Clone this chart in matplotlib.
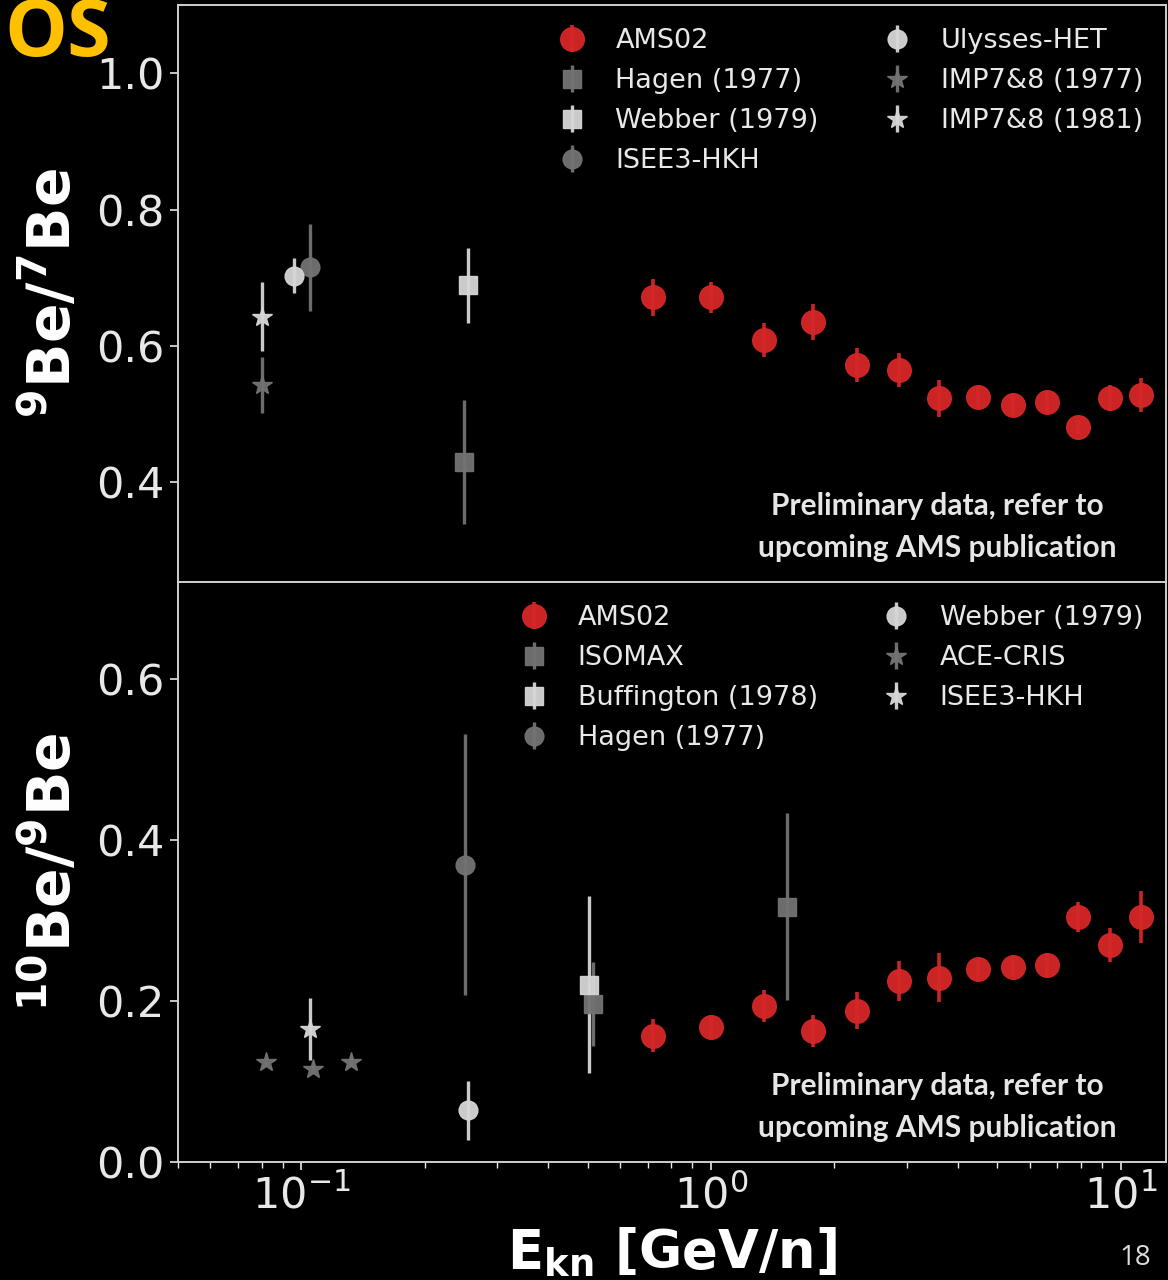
import matplotlib
matplotlib.use("Agg")
import matplotlib.pyplot as plt

# ---- 9Be/7Be ----
ams_e = [0.72, 1.00, 1.35, 1.77, 2.27, 2.88, 3.59, 4.47, 5.45, 6.59, 7.88, 9.42, 11.17]
ams_be97 = [0.671, 0.671, 0.609, 0.635, 0.572, 0.564, 0.523, 0.525, 0.513, 0.518, 0.481, 0.523, 0.528]
ams_be97_err = [0.027, 0.023, 0.025, 0.027, 0.025, 0.025, 0.027, 0.014, 0.016, 0.017, 0.010, 0.019, 0.025]

hagen_be97_e, hagen_be97, hagen_be97_err = [0.250], [0.429], [0.091]
webber_be97_e, webber_be97, webber_be97_err = [0.255], [0.689], [0.055]
isee3_be97_e, isee3_be97, isee3_be97_err = [0.105], [0.715], [0.064]
ulysses_be97_e, ulysses_be97, ulysses_be97_err = [0.096], [0.703], [0.026]
imp77_be97_e, imp77_be97, imp77_be97_err = [0.080], [0.542], [0.041]
imp81_be97_e, imp81_be97, imp81_be97_err = [0.080], [0.643], [0.050]

# ---- 10Be/9Be ----
ams_be109 = [0.157, 0.167, 0.194, 0.163, 0.188, 0.225, 0.229, 0.240, 0.242, 0.244, 0.304, 0.269, 0.304]
ams_be109_err = [0.020, 0.015, 0.020, 0.020, 0.023, 0.025, 0.030, 0.010, 0.010, 0.016, 0.019, 0.021, 0.032]

isomax_e, isomax_be109, isomax_be109_err = [0.514, 1.53], [0.196, 0.317], [0.052, 0.116]
buff_e, buff_be109, buff_be109_err = [0.504], [0.220], [0.110]
hagen_be109_e, hagen_be109, hagen_be109_err = [0.2505], [0.369], [0.162]
webber_be109_e, webber_be109, webber_be109_err = [0.255], [0.064], [0.037]
ace_e, ace_be109, ace_be109_err = [0.082, 0.107, 0.132], [0.124, 0.116, 0.124], [0.005, 0.005, 0.005]
isee3_be109_e, isee3_be109, isee3_be109_err = [0.105], [0.165], [0.039]

RED = "#d62728"
DARK = "#737373"
LIGHT = "#d6d6d6"
FG = "#e8e8e8"

plt.rcParams["font.family"] = ["DejaVu Sans"]

fig = plt.figure(figsize=(11.68, 12.8), dpi=100, facecolor="black")
ax1 = fig.add_axes([0.1524, 0.5453, 0.846, 0.4508])
ax2 = fig.add_axes([0.1524, 0.0922, 0.846, 0.4531], sharex=ax1)


def pt(ax, x, y, err, color, marker, label, ms=13.5, elw=2.4):
    ax.errorbar(x, y, yerr=err, fmt=marker, color=color, ms=ms, mec=color,
                elinewidth=elw, capsize=0, label=label, alpha=0.95)


pt(ax1, ams_e, ams_be97, ams_be97_err, RED, "o", "AMS02", ms=17, elw=2.6)
pt(ax1, hagen_be97_e, hagen_be97, hagen_be97_err, DARK, "s", "Hagen (1977)")
pt(ax1, webber_be97_e, webber_be97, webber_be97_err, LIGHT, "s", "Webber (1979)")
pt(ax1, isee3_be97_e, isee3_be97, isee3_be97_err, DARK, "o", "ISEE3-HKH")
pt(ax1, ulysses_be97_e, ulysses_be97, ulysses_be97_err, LIGHT, "o", "Ulysses-HET")
pt(ax1, imp77_be97_e, imp77_be97, imp77_be97_err, DARK, "*", "IMP7&8 (1977)", ms=15)
pt(ax1, imp81_be97_e, imp81_be97, imp81_be97_err, LIGHT, "*", "IMP7&8 (1981)", ms=15)

pt(ax2, ams_e, ams_be109, ams_be109_err, RED, "o", "AMS02", ms=17, elw=2.6)
pt(ax2, isomax_e, isomax_be109, isomax_be109_err, DARK, "s", "ISOMAX")
pt(ax2, buff_e, buff_be109, buff_be109_err, LIGHT, "s", "Buffington (1978)")
pt(ax2, hagen_be109_e, hagen_be109, hagen_be109_err, DARK, "o", "Hagen (1977)")
pt(ax2, webber_be109_e, webber_be109, webber_be109_err, LIGHT, "o", "Webber (1979)")
pt(ax2, ace_e, ace_be109, ace_be109_err, DARK, "*", "ACE-CRIS", ms=15)
pt(ax2, isee3_be109_e, isee3_be109, isee3_be109_err, LIGHT, "*", "ISEE3-HKH", ms=15)

ax1.set_xscale("log")
ax1.set_xlim(0.05, 12.9)
ax1.set_ylim(0.2536, 1.10)
ax2.set_ylim(0.0, 0.72)
ax1.set_yticks([0.4, 0.6, 0.8, 1.0])
ax2.set_yticks([0.0, 0.2, 0.4, 0.6])

for ax in (ax1, ax2):
    ax.set_facecolor("black")
    for s in ax.spines.values():
        s.set_color("#cfcfcf")
        s.set_linewidth(1.4)
    ax.tick_params(which="major", colors=FG, labelsize=31, length=6, width=1.2)
    ax.tick_params(which="minor", colors=FG, length=4, width=1.0)
    ax.legend(loc="upper right", bbox_to_anchor=(1.0, 1.0), ncol=2, frameon=False,
              fontsize=19.5, labelcolor=FG, handlelength=1.2, handletextpad=1.0,
              labelspacing=0.52, columnspacing=2.3, borderpad=0.35)
    ax.text(0.768, 0.095, "Preliminary data, refer to\nupcoming AMS publication",
            transform=ax.transAxes, ha="center", va="center", color="#e6e6e6",
            fontsize=21.5, fontweight="bold", family="Lato", linespacing=1.6)

ax1.tick_params(axis="x", labelbottom=False)

ax1.set_ylabel(r"$\mathbf{^{9}Be/^{7}Be}$", color="white", fontsize=42, labelpad=10)
ax2.set_ylabel(r"$\mathbf{^{10}Be/^{9}Be}$", color="white", fontsize=42, labelpad=10)
ax2.set_xlabel(r"$\mathbf{E_{kn}}$ [GeV/n]", color="white", fontsize=38,
               fontweight="bold", labelpad=6)

fig.text(0.004, 1 - 56 / 1280, "OS", color="#ffc000", fontsize=57, fontweight="bold",
         family="Open Sans", ha="left", va="baseline")
fig.text(0.986, 0.017, "18", color="#dddddd", fontsize=20, family="Open Sans",
         ha="right", va="center")

fig.savefig("out.png", dpi=100, facecolor="black")
